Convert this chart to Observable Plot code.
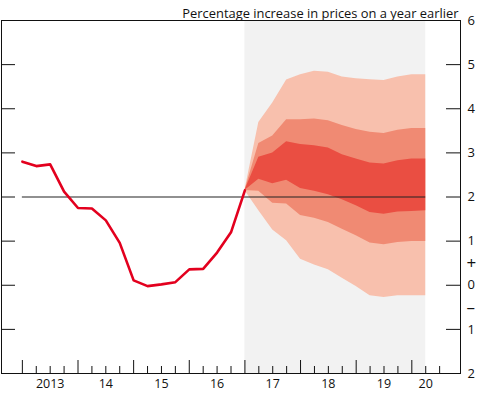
<!DOCTYPE html>
<html><head><meta charset="utf-8">
<script src="https://cdn.jsdelivr.net/npm/d3@7"></script>
<script src="https://cdn.jsdelivr.net/npm/@observablehq/plot@0.6"></script>
<style>body{margin:0;background:#fff} svg{display:block}</style>
</head><body><div id="chart"></div>
<script>
// Historical CPI inflation (quarterly, x = year fraction)
const histQuarters = [2013, 2013.25, 2013.5, 2013.75, 2014, 2014.25, 2014.5, 2014.75,
  2015, 2015.25, 2015.5, 2015.75, 2016, 2016.25, 2016.5, 2016.75, 2017];
const histCPI = [2.80, 2.70, 2.74, 2.12, 1.75, 1.74, 1.47, 0.96,
  0.11, -0.02, 0.02, 0.07, 0.36, 0.37, 0.74, 1.20, 2.15];

// Fan chart projection bands
const fanQuarters = [2017, 2017.25, 2017.5, 2017.75, 2018, 2018.25, 2018.5, 2018.75,
  2019, 2019.25, 2019.5, 2019.75, 2020, 2020.25];
const hi90 = [2.15, 3.69, 4.13, 4.65, 4.77, 4.85, 4.83, 4.72, 4.68, 4.66, 4.64, 4.72, 4.77, 4.77];
const hi60 = [2.15, 3.21, 3.38, 3.75, 3.75, 3.77, 3.73, 3.62, 3.53, 3.47, 3.44, 3.51, 3.55, 3.55];
const hi30 = [2.15, 2.90, 3.00, 3.25, 3.19, 3.16, 3.11, 2.96, 2.86, 2.77, 2.75, 2.82, 2.86, 2.86];
const lo30 = [2.15, 2.40, 2.30, 2.38, 2.19, 2.13, 2.05, 1.94, 1.80, 1.65, 1.61, 1.66, 1.67, 1.69];
const lo60 = [2.15, 2.13, 1.86, 1.84, 1.58, 1.52, 1.42, 1.27, 1.12, 0.96, 0.92, 0.97, 0.99, 0.99];
const lo90 = [2.15, 1.69, 1.25, 1.01, 0.59, 0.46, 0.35, 0.16, -0.03, -0.24, -0.28, -0.24, -0.24, -0.24];

const projectionPeriod = [2017, 2020.25];
const targetRate = 2;

const yTicks = [-2, -1, 0, 1, 2, 3, 4, 5, 6];
const majorXTicks = [2013, 2014, 2015, 2016, 2017, 2018, 2019, 2020];
const minorXTicks = [2013.25, 2013.5, 2013.75, 2014.25, 2014.5, 2014.75, 2015.25, 2015.5, 2015.75,
  2016.25, 2016.5, 2016.75, 2017.25, 2017.5, 2017.75, 2018.25, 2018.5, 2018.75,
  2019.25, 2019.5, 2019.75, 2020.25, 2020.5];
const xLabelPos = [2013.5, 2014.5, 2015.5, 2016.5, 2017.5, 2018.5, 2019.5, 2020.25];
const xLabels = ["2013", "14", "15", "16", "17", "18", "19", "20"];
const signLabels = [{y: 0.5, t: "+"}, {y: -0.5, t: "–"}];
const title = "Percentage increase in prices on a year earlier";

const hist = histQuarters.map((x, i) => ({x, y: histCPI[i]}));
const fan = fanQuarters.map((x, i) => ({x, hi90: hi90[i], hi60: hi60[i], hi30: hi30[i],
  lo30: lo30[i], lo60: lo60[i], lo90: lo90[i]}));

const W = 478, H = 395, mT = 20, mR = 18, mB = 22, mL = 1;
const pw = W - mL - mR, ph = H - mT - mB;

const chart = Plot.plot({
  width: W, height: H,
  marginTop: mT, marginRight: mR, marginBottom: mB, marginLeft: mL,
  style: {fontFamily: "'Open Sans', sans-serif", fontSize: "12px", background: "#fff", color: "#111", overflow: "visible"},
  x: {domain: [2012.625, 2020.875], axis: null},
  y: {domain: [-2, 6], axis: null},
  marks: [
    Plot.rect([projectionPeriod], {x1: d => d[0], x2: d => d[1], y1: -2, y2: 6, fill: "#f2f2f2"}),
    Plot.areaY(fan, {x: "x", y1: "lo90", y2: "hi90", fill: "#f8c0ad"}),
    Plot.areaY(fan, {x: "x", y1: "lo60", y2: "hi60", fill: "#f08a73"}),
    Plot.areaY(fan, {x: "x", y1: "lo30", y2: "hi30", fill: "#ea4e42"}),
    Plot.ruleY([targetRate], {x1: histQuarters[0], x2: projectionPeriod[1], stroke: "#222", strokeWidth: 1.2}),
    Plot.line(hist, {x: "x", y: "y", stroke: "#e3001e", strokeWidth: 2.6}),
    Plot.ruleY(yTicks, {insetRight: pw - 14, stroke: "#111"}),
    Plot.ruleY(yTicks, {insetLeft: pw - 14, stroke: "#111"}),
    Plot.ruleX(majorXTicks, {insetTop: ph - 13, stroke: "#111"}),
    Plot.ruleX(minorXTicks, {insetTop: ph - 7, stroke: "#111"}),
    Plot.frame({stroke: "#111"}),
    Plot.text(yTicks, {y: d => d, text: d => String(Math.abs(d)), frameAnchor: "right", dx: 7, textAnchor: "start", fontSize: 13, fill: "#111"}),
    Plot.text(signLabels, {y: "y", text: "t", frameAnchor: "right", dx: 6, textAnchor: "start", fontSize: 17, fill: "#111"}),
    Plot.text(xLabelPos, {x: d => d, text: (d, i) => xLabels[i], frameAnchor: "bottom", dy: 14, fontSize: 12.5, fill: "#111"}),
    Plot.text([title], {frameAnchor: "top-right", dx: -2, dy: -12, textAnchor: "end", fontSize: 12.9, fill: "#111"})
  ]
});
document.getElementById("chart").appendChild(chart);
</script>
</body></html>
